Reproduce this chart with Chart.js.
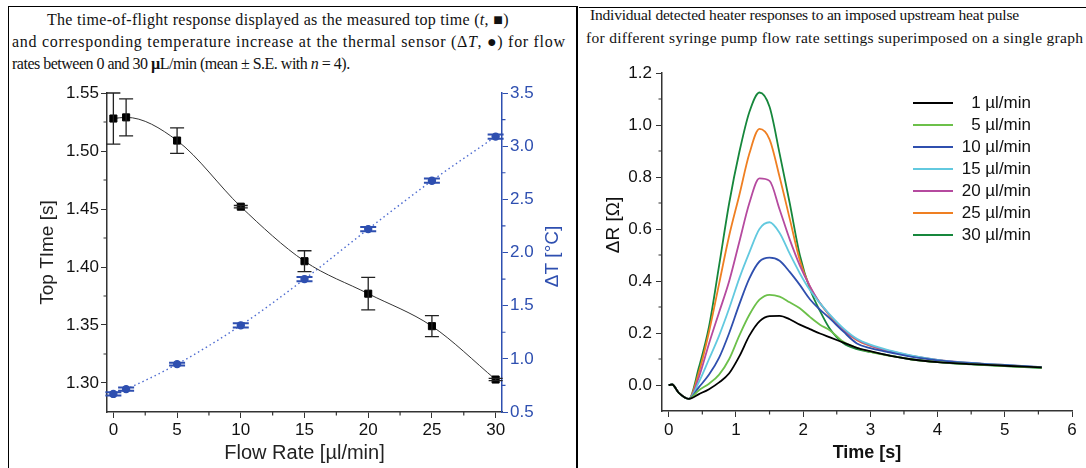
<!DOCTYPE html>
<html>
<head>
<meta charset="utf-8">
<script src="https://cdn.jsdelivr.net/npm/chart.js@4.4.1/dist/chart.umd.min.js"></script>
<style>
  body { margin: 0; width: 1086px; height: 468px; background: #fff; position: relative; overflow: hidden; }
  #leftBox { position: absolute; left: 8px; top: 6px; width: 567px; height: 470px; border-left: 1px solid #000; border-top: 1px solid #000; border-right: 2px solid #000; }
  #rightTop { position: absolute; left: 579px; top: 7px; width: 507px; border-top: 1px solid #000; }
  .cap { position: absolute; font-family: "Liberation Serif", serif; font-size: 16px; line-height: 18px; white-space: nowrap; color: #111; }
  .cap2 { position: absolute; font-family: "Liberation Serif", serif; font-size: 15.5px; line-height: 18px; white-space: nowrap; color: #111; }
  #leftWrap { position: absolute; left: 8px; top: 70px; width: 570px; height: 398px; }
  #rightWrap { position: absolute; left: 580px; top: 55px; width: 506px; height: 413px; }
  #legend { position: absolute; left: 905px; top: 92px; font-family: "Liberation Sans", Arial, sans-serif; font-size: 17px; color: #111; }
  .row { position: relative; height: 22px; width: 130px; }
  .row .sw { position: absolute; left: 8px; top: 10px; width: 40px; height: 2px; }
  .row .tx { position: absolute; right: 4px; top: 1px; white-space: nowrap; }
</style>
</head>
<body>
<div id="leftBox"></div>
<div id="rightTop"></div>

<div class="cap" style="left:47px; top:11px; letter-spacing:0.3px;">The time-of-flight response displayed as the measured top time (<i>t</i>, &#9632;)</div>
<div class="cap" style="left:12px; top:33px; letter-spacing:0.7px;">and corresponding temperature increase at the thermal sensor (&Delta;<i>T</i>, &#9679;) for flow</div>
<div class="cap" style="left:12px; top:55px; letter-spacing:-0.5px;">rates between 0 and 30 <b>&micro;</b>L/min (mean &plusmn; S.E. with <i>n</i> = 4).</div>

<div class="cap2" style="left:590px; top:6px; letter-spacing:-0.2px;">Individual detected heater responses to an imposed upstream heat pulse</div>
<div class="cap2" style="left:586px; top:29px; letter-spacing:0.3px;">for different syringe pump flow rate settings superimposed on a single graph</div>

<div id="leftWrap"><canvas id="left" width="570" height="398"></canvas></div>
<div id="rightWrap"><canvas id="right" width="506" height="413"></canvas></div>
<div id="legend"></div>

<script>
// left graph: top time and temperature rise vs flow rate
var flowRates = [0, 1, 5, 10, 15, 20, 25, 30];
var topTime = [1.528, 1.529, 1.509, 1.452, 1.405, 1.377, 1.349, 1.303];
var topTimeErr = [0.022, 0.016, 0.011, 0.001, 0.009, 0.014, 0.009, 0.001];
var deltaT = [0.67, 0.715, 0.95, 1.315, 1.75, 2.22, 2.675, 3.09];
var deltaTErr = [0.015, 0.015, 0.012, 0.02, 0.02, 0.02, 0.02, 0.02];

var flowTicks = [0, 5, 10, 15, 20, 25, 30];
var flowMinor = [2.5, 7.5, 12.5, 17.5, 22.5, 27.5];
var topTimeTicks = [1.30, 1.35, 1.40, 1.45, 1.50, 1.55];
var topTimeMinor = [1.325, 1.375, 1.425, 1.475, 1.525];
var deltaTTicks = [0.5, 1.0, 1.5, 2.0, 2.5, 3.0, 3.5];
var deltaTMinor = [0.75, 1.25, 1.75, 2.25, 2.75, 3.25];

// right graph: heater response curves
var timeS = [0, 0.05, 0.15, 0.3, 0.45, 0.6, 0.75, 0.9, 1.05, 1.2, 1.35, 1.5, 1.65, 1.8, 1.95, 2.1, 2.25, 2.4, 2.6, 2.8, 3.0, 3.3, 3.6, 4.0, 4.5, 5.0, 5.55];
var r1  = [0, 0.002, -0.03, -0.053, -0.035, -0.016, 0.01, 0.045, 0.11, 0.19, 0.245, 0.265, 0.266, 0.253, 0.232, 0.215, 0.198, 0.183, 0.163, 0.143, 0.13, 0.112, 0.099, 0.088, 0.08, 0.074, 0.068];
var r5  = [0, 0.002, -0.03, -0.053, -0.02, 0.005, 0.04, 0.10, 0.19, 0.27, 0.328, 0.347, 0.34, 0.318, 0.295, 0.262, 0.232, 0.21, 0.166, 0.143, 0.127, 0.112, 0.099, 0.088, 0.08, 0.073, 0.067];
var r10 = [0, 0.002, -0.03, -0.053, -0.008, 0.04, 0.105, 0.20, 0.31, 0.41, 0.475, 0.49, 0.478, 0.435, 0.385, 0.33, 0.29, 0.255, 0.205, 0.16, 0.142, 0.125, 0.109, 0.095, 0.084, 0.076, 0.068];
var r15 = [0, 0.002, -0.03, -0.053, 0.012, 0.10, 0.19, 0.295, 0.41, 0.51, 0.60, 0.626, 0.585, 0.505, 0.43, 0.365, 0.315, 0.27, 0.218, 0.178, 0.155, 0.132, 0.114, 0.097, 0.085, 0.077, 0.069];
var r20 = [0, 0.002, -0.03, -0.053, 0.031, 0.16, 0.28, 0.40, 0.55, 0.70, 0.795, 0.785, 0.675, 0.56, 0.46, 0.38, 0.315, 0.268, 0.213, 0.175, 0.152, 0.13, 0.113, 0.097, 0.085, 0.077, 0.069];
var r25 = [0, 0.002, -0.03, -0.053, 0.05, 0.205, 0.39, 0.575, 0.73, 0.89, 0.985, 0.945, 0.80, 0.64, 0.48, 0.378, 0.315, 0.265, 0.21, 0.172, 0.15, 0.128, 0.112, 0.096, 0.084, 0.076, 0.068];
var r30 = [0, 0.002, -0.03, -0.053, 0.069, 0.225, 0.46, 0.70, 0.895, 1.05, 1.125, 1.07, 0.89, 0.70, 0.50, 0.37, 0.285, 0.215, 0.16, 0.138, 0.127, 0.113, 0.099, 0.088, 0.079, 0.073, 0.065];
var seriesNames = ['1 \u00b5l/min', '5 \u00b5l/min', '10 \u00b5l/min', '15 \u00b5l/min', '20 \u00b5l/min', '25 \u00b5l/min', '30 \u00b5l/min'];
var seriesColors = ['#000000', '#6cc04a', '#2f4fae', '#62c9df', '#b54a9f', '#ef7f22', '#16873c'];

var timeTicks = [0, 1, 2, 3, 4, 5, 6];
var timeMinor = [0.5, 1.5, 2.5, 3.5, 4.5, 5.5];
var dRTicks = [0, 0.2, 0.4, 0.6, 0.8, 1.0, 1.2];
var dRMinor = [0.1, 0.3, 0.5, 0.7, 0.9, 1.1];

Chart.defaults.font.family = '"Liberation Sans", Arial, sans-serif';
Chart.defaults.color = '#111';

var blue = '#2e4fb0';

function pairs(xs, ys) {
    return xs.map(function (x, i) { return {x: x, y: ys[i]}; });
}

function fixTicks(values) {
    return function (scale) { scale.ticks = values.map(function (v) { return {value: v}; }); };
}

// vertical error bars with caps
var errorBars = {
    id: 'errorBars',
    afterDatasetsDraw: function (chart) {
        var ctx = chart.ctx;
        chart.data.datasets.forEach(function (ds, i) {
            if (!ds.errors) return;
            var meta = chart.getDatasetMeta(i);
            var ys = chart.scales[ds.yAxisID];
            ctx.save();
            ctx.strokeStyle = ds.errorColor;
            ctx.lineWidth = ds.errorWidth;
            meta.data.forEach(function (pt, j) {
                var v = ds.data[j].y, e = ds.errors[j], w = ds.capWidth;
                var top = ys.getPixelForValue(v + e), bot = ys.getPixelForValue(v - e);
                ctx.beginPath();
                ctx.moveTo(pt.x, top); ctx.lineTo(pt.x, bot);
                ctx.moveTo(pt.x - w, top); ctx.lineTo(pt.x + w, top);
                ctx.moveTo(pt.x - w, bot); ctx.lineTo(pt.x + w, bot);
                ctx.stroke();
            });
            ctx.restore();
        });
    }
};

// short minor tick marks on the outside of each axis
var minorTicks = {
    id: 'minorTicks',
    afterDraw: function (chart, args, opts) {
        var ctx = chart.ctx;
        Object.keys(chart.scales).forEach(function (id) {
            var vals = opts[id];
            if (!vals) return;
            var s = chart.scales[id];
            ctx.save();
            ctx.strokeStyle = s.options.border.color;
            ctx.lineWidth = 1.2;
            ctx.beginPath();
            vals.forEach(function (v) {
                var p = s.getPixelForValue(v);
                if (s.isHorizontal()) { ctx.moveTo(p, s.top); ctx.lineTo(p, s.top + 3.5); }
                else if (s.position === 'left') { ctx.moveTo(s.right, p); ctx.lineTo(s.right - 3.5, p); }
                else { ctx.moveTo(s.left, p); ctx.lineTo(s.left + 3.5, p); }
            });
            ctx.stroke();
            ctx.restore();
        });
    }
};

// vertical axis titles that read bottom to top, placed beside their scale
var sideTitle = {
    id: 'sideTitle',
    afterDraw: function (chart, args, opts) {
        var s = chart.scales[opts.scale];
        var ctx = chart.ctx;
        ctx.save();
        ctx.translate(opts.x, (s.top + s.bottom) / 2 + opts.shift);
        ctx.rotate(-Math.PI / 2);
        ctx.font = opts.font;
        ctx.fillStyle = opts.color;
        ctx.textAlign = 'center';
        ctx.textBaseline = 'middle';
        ctx.fillText(opts.text, 0, 0);
        ctx.restore();
    }
};

new Chart(document.getElementById('left'), {
    type: 'line',
    data: {
        datasets: [{
            data: pairs(flowRates, topTime),
            yAxisID: 'y',
            borderColor: '#333',
            borderWidth: 1,
            pointStyle: 'rect',
            pointRadius: 5,
            pointBackgroundColor: '#000',
            pointBorderColor: '#000',
            cubicInterpolationMode: 'monotone',
            errors: topTimeErr,
            errorColor: '#222',
            errorWidth: 1.3,
            capWidth: 7
        }, {
            data: pairs(flowRates, deltaT),
            yAxisID: 'y2',
            borderColor: '#4d6bd0',
            borderWidth: 1.4,
            borderDash: [1.5, 3],
            pointStyle: 'circle',
            pointRadius: 3.5,
            pointBackgroundColor: blue,
            pointBorderColor: blue,
            cubicInterpolationMode: 'monotone',
            errors: deltaTErr,
            errorColor: blue,
            errorWidth: 2,
            capWidth: 8
        }]
    },
    options: {
        responsive: false,
        animation: false,
        layout: {padding: {top: 23, left: 0, right: 0, bottom: 0}},
        plugins: {
            legend: {display: false},
            tooltip: {enabled: false},
            minorTicks: {x: flowMinor, y: topTimeMinor, y2: deltaTMinor},
            sideTitle: {scale: 'y2', text: '\u0394T [\u00b0C]', x: 545, shift: 4, font: '19px "Liberation Sans", Arial, sans-serif', color: blue}
        },
        scales: {
            x: {
                type: 'linear', min: -0.5, max: 30.5,
                afterBuildTicks: fixTicks(flowTicks),
                afterFit: function (s) { s.height = 56; },
                grid: {drawOnChartArea: false, tickLength: 6, color: '#333'},
                border: {color: '#333', width: 1.5},
                ticks: {font: {size: 17}, padding: 2, maxRotation: 0},
                title: {display: true, text: 'Flow Rate [\u00b5l/min]', font: {size: 20}, color: '#222', padding: {top: 0, bottom: 3}}
            },
            y: {
                type: 'linear', position: 'left', min: 1.275, max: 1.55,
                afterBuildTicks: fixTicks(topTimeTicks),
                afterFit: function (s) { s.width = 99; },
                grid: {drawOnChartArea: false, tickLength: 6, color: '#333'},
                border: {color: '#333', width: 1.5},
                ticks: {font: {size: 17}, padding: 2, callback: function (v) { return v.toFixed(2); }},
                title: {display: true, text: 'Top TIme [s]', font: {size: 19}, color: '#222', padding: {top: 28, bottom: 0}}
            },
            y2: {
                type: 'linear', position: 'right', min: 0.5, max: 3.5,
                afterBuildTicks: fixTicks(deltaTTicks),
                afterFit: function (s) { s.width = 76; },
                grid: {drawOnChartArea: false, tickLength: 6, color: blue},
                border: {color: blue, width: 1.5},
                ticks: {font: {size: 17}, padding: 2, color: blue, callback: function (v) { return v.toFixed(1); }}
            }
        }
    },
    plugins: [errorBars, minorTicks, sideTitle]
});

var curves = [r1, r5, r10, r15, r20, r25, r30];

new Chart(document.getElementById('right'), {
    type: 'line',
    data: {
        datasets: curves.map(function (ys, i) {
            return {
                label: seriesNames[i],
                data: pairs(timeS, ys),
                borderColor: seriesColors[i],
                borderWidth: 1.8,
                pointRadius: 0,
                cubicInterpolationMode: 'monotone'
            };
        })
    },
    options: {
        responsive: false,
        animation: false,
        layout: {padding: {top: 18, right: 14, left: 0, bottom: 0}},
        plugins: {
            legend: {display: false},
            tooltip: {enabled: false},
            minorTicks: {x: timeMinor, y: dRMinor},
            sideTitle: {scale: 'y', text: '\u0394R [\u03a9]', x: 34, shift: -17, font: '19px "Liberation Sans", Arial, sans-serif', color: '#111'}
        },
        scales: {
            x: {
                type: 'linear', min: -0.1, max: 6,
                afterBuildTicks: fixTicks(timeTicks),
                afterFit: function (s) { s.height = 57; },
                grid: {drawOnChartArea: false, tickLength: 6, color: '#333'},
                border: {color: '#333', width: 1.5},
                ticks: {font: {size: 17}, padding: 3, maxRotation: 0},
                title: {display: true, text: 'Time [s]', font: {size: 18, weight: 'bold'}, color: '#111', padding: {top: 0, bottom: 4}}
            },
            y: {
                type: 'linear', min: -0.1, max: 1.2,
                afterBuildTicks: fixTicks(dRTicks),
                afterFit: function (s) { s.width = 82; },
                grid: {drawOnChartArea: false, tickLength: 6, color: '#333'},
                border: {color: '#333', width: 1.5},
                ticks: {font: {size: 17}, padding: 4, callback: function (v) { return v.toFixed(1); }}
            }
        }
    },
    plugins: [minorTicks, sideTitle]
});

// legend: coloured line on the left, right aligned label
var legend = document.getElementById('legend');
seriesNames.forEach(function (name, i) {
    var row = document.createElement('div');
    row.className = 'row';
    row.innerHTML = '<div class="sw" style="background:' + seriesColors[i] + '"></div><div class="tx">' + name + '</div>';
    legend.appendChild(row);
});
</script>
</body>
</html>
